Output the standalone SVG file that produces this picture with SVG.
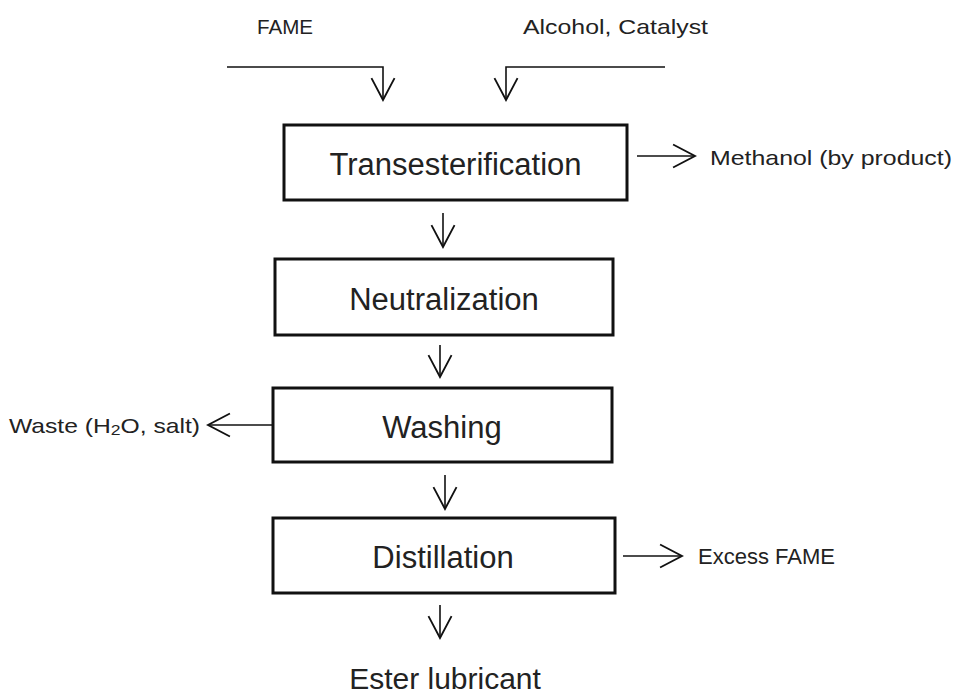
<svg xmlns="http://www.w3.org/2000/svg" width="957" height="696" viewBox="0 0 957 696">
<style>
.box{fill:#fff;stroke:#111;stroke-width:3}
.lbl{font-family:"Liberation Sans",Arial,sans-serif;fill:#222}
.big{font-size:31px;text-anchor:middle}
.small{font-size:21px}
.conn{fill:none;stroke:#111;stroke-width:1.6}
</style>
<defs>
<marker id="v" markerUnits="userSpaceOnUse" markerWidth="30" markerHeight="30" viewBox="-20 -13 22 26" refX="0" refY="0" orient="auto">
<path d="M-19,-10 L0,0 L-19,10" fill="none" stroke="#111" stroke-width="1.6"/>
</marker>
</defs>
<rect width="957" height="696" fill="#fff"/>
<g id="connectors">
<path class="conn" d="M227,67 H383 V100" marker-end="url(#v)"/>
<path class="conn" d="M665,67 H506 V100" marker-end="url(#v)"/>
<path class="conn" d="M443,213 V247" marker-end="url(#v)"/>
<path class="conn" d="M440,345 V377" marker-end="url(#v)"/>
<path class="conn" d="M445,475 V509" marker-end="url(#v)"/>
<path class="conn" d="M440,605 V638" marker-end="url(#v)"/>
<path class="conn" d="M637,156 H695" marker-end="url(#v)"/>
<path class="conn" d="M623,556 H682" marker-end="url(#v)"/>
<path class="conn" d="M273,425 H208" marker-end="url(#v)"/>
</g>
<g id="fame"><text class="lbl" x="257" y="34" font-size="20" textLength="56" lengthAdjust="spacingAndGlyphs">FAME</text></g>
<g id="alcohol"><text class="lbl" x="523" y="34" font-size="21" textLength="185" lengthAdjust="spacingAndGlyphs">Alcohol,  Catalyst</text></g>
<g id="transesterification">
<rect class="box" x="284" y="125" width="343" height="75"/>
<text class="lbl big" x="455.5" y="175">Transesterification</text>
</g>
<g id="methanol"><text class="lbl small" x="710" y="165" font-size="22" textLength="242" lengthAdjust="spacingAndGlyphs">Methanol (by product)</text></g>
<g id="neutralization">
<rect class="box" x="275" y="259" width="338" height="76"/>
<text class="lbl big" x="444" y="310">Neutralization</text>
</g>
<g id="washing">
<rect class="box" x="273" y="388" width="339" height="74"/>
<text class="lbl big" x="442" y="438">Washing</text>
</g>
<g id="waste"><text class="lbl small" x="9" y="433" textLength="191" lengthAdjust="spacingAndGlyphs">Waste (H<tspan font-size="15" dy="2">2</tspan><tspan dy="-2">O, salt)</tspan></text></g>
<g id="distillation">
<rect class="box" x="273" y="518" width="342" height="75"/>
<text class="lbl big" x="443" y="568">Distillation</text>
</g>
<g id="excess"><text class="lbl" x="698" y="564" font-size="22" textLength="137" lengthAdjust="spacingAndGlyphs">Excess FAME</text></g>
<g id="ester"><text class="lbl" x="445" y="689" font-size="30" text-anchor="middle">Ester lubricant</text></g>
</svg>
